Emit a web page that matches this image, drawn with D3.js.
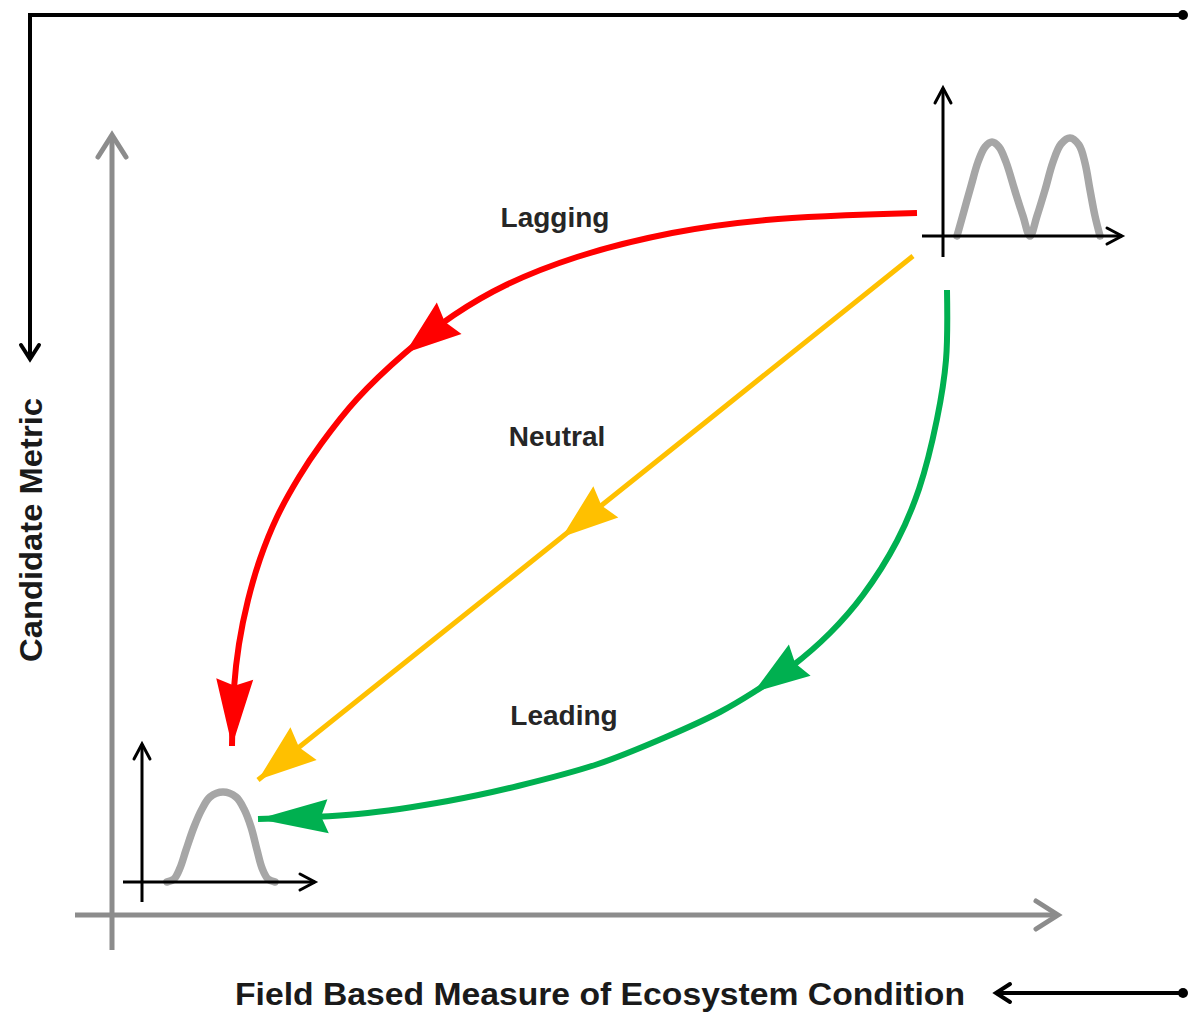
<!DOCTYPE html>
<html><head><meta charset="utf-8">
<script src="https://cdn.jsdelivr.net/npm/d3@7"></script>
<style>html,body{margin:0;padding:0;background:#fff;} svg{display:block;}</style>
</head><body>
<script>
// ---- data (diagram units: origin at main-axis corner, x right, y up) ----
const curveNames = ["Lagging", "Neutral", "Leading"];
const laggingPts = [[805,702],[654,695],[560,682],[465,658],[394,630],[342,600],[293,562],[245,516],[209,471],[187,438],[165,398],[148,356],[136,315],[127,271],[122,227],[120,169]];
const neutralPts = [[801,659],[450,378],[146,135]];
const leadingPts = [[835,625],[834,555],[825,496],[807,426],[785,374],[751,320],[718,282],[679,248],[642,223],[608,203],[554,178],[486,151],[406,129],[336,114],[246,101],[146,96]];
// arrowheads: index of the point where the tip sits
const arrowIdx = { Lagging: [6, 15], Neutral: [1, 2], Leading: [8, 15] };
const labelPos = [[443,688],[445,469],[452,190]];
// inset distributions (local units relative to inset origin)
const bimodalPts = [[14,0],[21,25],[28,50],[35,74],[42,89],[49,94],[56,89],[63,74],[72,45],[80,20],[87,0],[94,20],[102,46],[110,74],[118,92],[127,98],[136,91],[142,73],[147,46],[152,20],[157,0]];
const unimodalPts = [[25,0],[32,3],[38,14],[44,32],[52,55],[60,73],[68,85],[81,90],[94,85],[102,73],[109,55],[115,32],[120,14],[126,3],[133,0]];
const insetOrigins = [[831,679],[30,33]];
const xTitle = "Field Based Measure of Ecosystem Condition";
const yTitle = "Candidate Metric";

// ---- layout ----
const W = 1188, H = 1013;
const x = d3.scaleLinear().domain([0, 946]).range([112, 1058]);
const y = d3.scaleLinear().domain([0, 780]).range([915, 135]);
const colors = { Lagging: "#ff0000", Neutral: "#ffc000", Leading: "#00b050" };
const widths = { Lagging: 6, Neutral: 5, Leading: 6 };
const arrowSize = { Lagging: [[56,40],[67,37]], Neutral: [[56,40],[58,42]], Leading: [[56,38],[70,34]] };

const svg = d3.select("body").append("svg").attr("width", W).attr("height", H);

function chevron(g, tx, ty, ang, len, half, color, sw) {
  const dx = Math.cos(ang), dy = Math.sin(ang);
  const nx = -dy, ny = dx;
  const bx = tx - dx*len, by = ty - dy*len;
  g.append("path")
    .attr("d", `M${bx+nx*half},${by+ny*half}L${tx},${ty}L${bx-nx*half},${by-ny*half}`)
    .attr("fill", "none").attr("stroke", color).attr("stroke-width", sw)
    .attr("stroke-linejoin", "miter").attr("stroke-linecap", "round");
}

// ---- outer black frame arrows ----
const frame = svg.append("g");
frame.append("path")
  .attr("d", `M${x(-82)},${y(558)}V${y(900)}H${x(1071)}`)
  .attr("fill", "none").attr("stroke", "#000").attr("stroke-width", 4);
frame.append("circle").attr("cx", x(1071)).attr("cy", y(900)).attr("r", 5).attr("fill", "#000");
chevron(frame, x(-82), y(556), Math.PI/2, 14, 9, "#000", 4);
frame.append("path")
  .attr("d", `M${x(1071)},${y(-78)}H${x(884)}`)
  .attr("fill", "none").attr("stroke", "#000").attr("stroke-width", 4);
frame.append("circle").attr("cx", x(1071)).attr("cy", y(-78)).attr("r", 5).attr("fill", "#000");
chevron(frame, x(884), y(-78), Math.PI, 14, 9, "#000", 4);

// ---- main gray axes ----
const axes = svg.append("g");
const gray = "#8c8c8c";
axes.append("line").attr("x1", x(0)).attr("x2", x(0)).attr("y1", y(-35)).attr("y2", y(779))
  .attr("stroke", gray).attr("stroke-width", 5);
axes.append("line").attr("x1", x(-37)).attr("x2", x(945)).attr("y1", y(0)).attr("y2", y(0))
  .attr("stroke", gray).attr("stroke-width", 5);
chevron(axes, x(0), y(780), -Math.PI/2, 22, 14, gray, 5);
chevron(axes, x(946), y(0), 0, 22, 14, gray, 5);

// ---- insets ----
function inset(origin, pts, xLen, xNeg, yLen, yNeg) {
  const g = svg.append("g").attr("transform", `translate(${x(origin[0])},${y(origin[1])})`);
  const lx = d3.scaleLinear().domain([0, 1]).range([0, 1]);
  const ly = d3.scaleLinear().domain([0, 1]).range([0, -1]);
  g.append("path").datum(pts)
    .attr("d", d3.line().x(d => lx(d[0])).y(d => ly(d[1])).curve(d3.curveCatmullRom.alpha(0.5)))
    .attr("fill", "none").attr("stroke", "#a6a6a6").attr("stroke-width", 7.5)
    .attr("stroke-linecap", "round").attr("stroke-linejoin", "round");
  g.append("line").attr("x1", lx(-xNeg)).attr("x2", lx(xLen)).attr("y1", 0).attr("y2", 0)
    .attr("stroke", "#000").attr("stroke-width", 3);
  g.append("line").attr("x1", 0).attr("x2", 0).attr("y1", ly(-yNeg)).attr("y2", ly(yLen))
    .attr("stroke", "#000").attr("stroke-width", 3);
  chevron(g, lx(xLen), 0, 0, 15, 8, "#000", 3);
  chevron(g, 0, ly(yLen), -Math.PI/2, 15, 8, "#000", 3);
}
inset(insetOrigins[0], bimodalPts, 179, 21, 148, 21);
inset(insetOrigins[1], unimodalPts, 173, 19, 138, 20);

// ---- curves ----
const seriesPts = { Lagging: laggingPts, Neutral: neutralPts, Leading: leadingPts };
const line = d3.line().x(d => x(d[0])).y(d => y(d[1])).curve(d3.curveCatmullRom.alpha(0.5));
curveNames.forEach((name, i) => {
  const pts = seriesPts[name];
  const p = svg.append("path").datum(pts)
    .attr("d", line).attr("fill", "none")
    .attr("stroke", colors[name]).attr("stroke-width", widths[name]).attr("stroke-linecap", "butt");
  const node = p.node(), L = node.getTotalLength();
  arrowIdx[name].forEach((idx, k) => {
    const [len, wid] = arrowSize[name][k];
    const tx = x(pts[idx][0]), ty = y(pts[idx][1]);
    let best = 0, bd = Infinity;
    for (let s = 0; s <= L; s += 0.5) {
      const q = node.getPointAtLength(s);
      const d = (q.x - tx) ** 2 + (q.y - ty) ** 2;
      if (d < bd) { bd = d; best = s; }
    }
    const tip = node.getPointAtLength(best);
    const back = node.getPointAtLength(Math.max(0, best - len));
    let dx = tip.x - back.x, dy = tip.y - back.y;
    const m = Math.hypot(dx, dy); dx /= m; dy /= m;
    const nx = -dy, ny = dx;
    const bx = tip.x - dx*len, by = tip.y - dy*len;
    svg.append("path")
      .attr("d", `M${tip.x},${tip.y}L${bx+nx*wid/2},${by+ny*wid/2}L${bx+dx*len*0.1},${by+dy*len*0.1}L${bx-nx*wid/2},${by-ny*wid/2}Z`)
      .attr("fill", colors[name]);
  });
  svg.append("text").attr("x", x(labelPos[i][0])).attr("y", y(labelPos[i][1]))
    .attr("text-anchor", "middle").attr("font-family", "Liberation Sans, Arial, sans-serif")
    .attr("font-weight", "bold").attr("font-size", 28).attr("fill", "#262626").text(name);
});

// ---- axis titles ----
svg.append("text").attr("x", x(488)).attr("y", y(-90)).attr("text-anchor", "middle")
  .attr("font-family", "Liberation Sans Narrow, Liberation Sans, Arial, sans-serif")
  .attr("font-weight", "bold").attr("font-size", 32).attr("fill", "#1a1a1a")
  .attr("textLength", 730).attr("lengthAdjust", "spacingAndGlyphs").text(xTitle);
svg.append("text")
  .attr("transform", `translate(${x(-70)},${y(385)}) rotate(-90)`)
  .attr("text-anchor", "middle")
  .attr("font-family", "Liberation Sans Narrow, Liberation Sans, Arial, sans-serif")
  .attr("font-weight", "bold").attr("font-size", 31).attr("fill", "#1a1a1a")
  .attr("textLength", 264).attr("lengthAdjust", "spacingAndGlyphs").text(yTitle);
</script>
</body></html>
